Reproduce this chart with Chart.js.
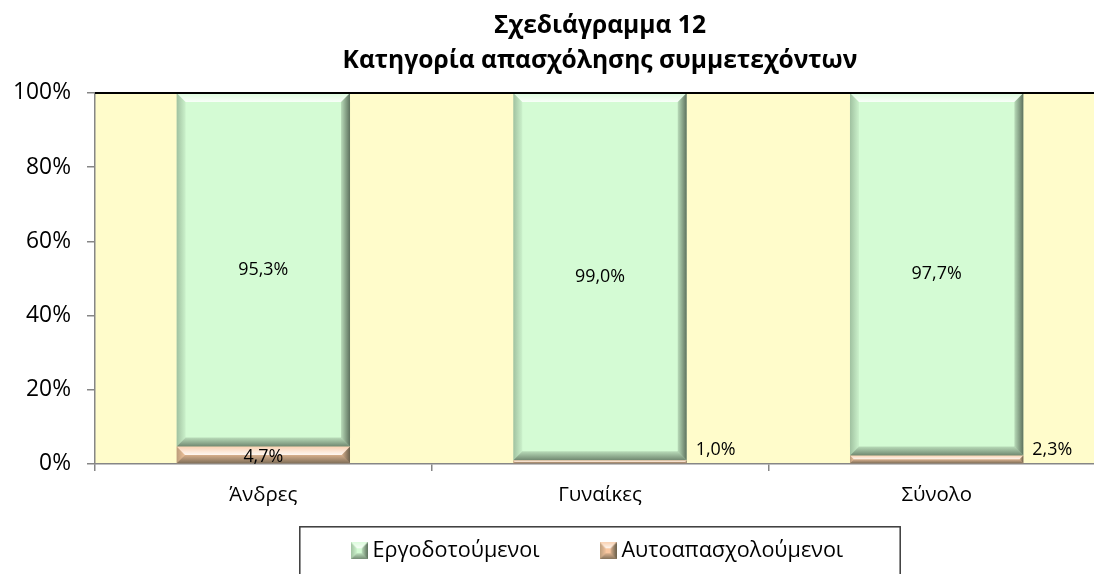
<!DOCTYPE html>
<html>
<head>
<meta charset="utf-8">
<script src="https://cdn.jsdelivr.net/npm/chart.js@4/dist/chart.umd.min.js"></script>
<style>
  html, body { margin: 0; padding: 0; background: #fff; overflow: hidden; }
  #wrap { width: 1094px; height: 574px; overflow: hidden; }
</style>
</head>
<body>
<div id="wrap"><canvas id="c" width="1110" height="574"></canvas></div>
<script>
const titleLines = ['Σχεδιάγραμμα 12', 'Κατηγορία απασχόλησης συμμετεχόντων'];
const categories = ['Άνδρες', 'Γυναίκες', 'Σύνολο'];
const seriesNames = ['Αυτοαπασχολούμενοι', 'Εργοδοτούμενοι'];
const selfEmployed = [4.7, 1.0, 2.3];
const employees = [95.3, 99.0, 97.7];
const yTicks = [0, 20, 40, 60, 80, 100];

const FONT = "'Open Sans', 'Noto Sans', 'DejaVu Sans', sans-serif";
const colors = { employees: '#D4FBD4', self: '#F9C7A0', plot: '#FFFCCB' };

// font sizes chosen so rendered text widths match the reference
const mctx = document.createElement('canvas').getContext('2d');
function fitSize(text, weight, target) {
  mctx.font = weight + ' 100px ' + FONT;
  return Math.round(10 * 100 * target / mctx.measureText(text).width) / 10;
}
const SZ = {
  title: fitSize(titleLines[1], 'bold', 515),
  y: fitSize('100%', 'normal', 58),
  x: fitSize(categories[0], 'normal', 68),
  label: fitSize('95,3%', 'normal', 50),
  legend: fitSize(seriesNames[1], 'normal', 167)
};

function drawBevel(ctx, x0, y0, x1, y1, bMax) {
  const w = x1 - x0, h = y1 - y0;
  const b = Math.max(0, Math.min(bMax, w / 2, h / 2));
  if (b <= 0) return;
  ctx.save();
  let g = ctx.createLinearGradient(0, y0, 0, y0 + b);
  g.addColorStop(0, 'rgba(255,255,255,0.2)');
  g.addColorStop(1, 'rgba(255,255,255,0.85)');
  ctx.fillStyle = g;
  ctx.beginPath(); ctx.moveTo(x0, y0); ctx.lineTo(x1, y0); ctx.lineTo(x1 - b, y0 + b); ctx.lineTo(x0 + b, y0 + b); ctx.closePath(); ctx.fill();
  g = ctx.createLinearGradient(x0, 0, x0 + b, 0);
  g.addColorStop(0, 'rgba(40,60,40,0.30)');
  g.addColorStop(1, 'rgba(40,60,40,0.05)');
  ctx.fillStyle = g;
  ctx.beginPath(); ctx.moveTo(x0, y0); ctx.lineTo(x0 + b, y0 + b); ctx.lineTo(x0 + b, y1 - b); ctx.lineTo(x0, y1); ctx.closePath(); ctx.fill();
  g = ctx.createLinearGradient(x1 - b, 0, x1, 0);
  g.addColorStop(0, 'rgba(30,40,30,0.15)');
  g.addColorStop(1, 'rgba(30,40,30,0.65)');
  ctx.fillStyle = g;
  ctx.beginPath(); ctx.moveTo(x1, y0); ctx.lineTo(x1 - b, y0 + b); ctx.lineTo(x1 - b, y1 - b); ctx.lineTo(x1, y1); ctx.closePath(); ctx.fill();
  g = ctx.createLinearGradient(0, y1 - b, 0, y1);
  g.addColorStop(0, 'rgba(30,40,30,0.15)');
  g.addColorStop(1, 'rgba(30,40,30,0.55)');
  ctx.fillStyle = g;
  ctx.beginPath(); ctx.moveTo(x0, y1); ctx.lineTo(x1, y1); ctx.lineTo(x1 - b, y1 - b); ctx.lineTo(x0 + b, y1 - b); ctx.closePath(); ctx.fill();
  ctx.restore();
}

function makeMarker(color) {
  const c = document.createElement('canvas');
  c.width = 17; c.height = 17;
  const x = c.getContext('2d');
  x.fillStyle = color;
  x.fillRect(0, 0, 17, 17);
  drawBevel(x, 0, 0, 17, 17, 6);
  return c;
}
const markers = [makeMarker(colors.self), makeMarker(colors.employees)];

const fmt = v => v.toFixed(1).replace('.', ',') + '%';

const LEGEND_SHIFT = 34;

const plotDeco = {
  id: 'plotDeco',
  afterLayout(chart) {
    // pull the legend block up so wide item spacing does not push it off the page
    const lg = chart.legend;
    if (lg) {
      lg.top -= LEGEND_SHIFT;
      lg.bottom = chart.height;
      lg.height = lg.bottom - lg.top;
    }
  },
  beforeDraw(chart) {
    const { ctx, chartArea: a } = chart;
    ctx.save();
    ctx.fillStyle = colors.plot;
    ctx.fillRect(a.left, a.top, a.right - a.left, a.bottom - a.top);
    ctx.restore();
  },
  afterDatasetsDraw(chart) {
    const { ctx, chartArea: a } = chart;
    chart.data.datasets.forEach((ds, di) => {
      chart.getDatasetMeta(di).data.forEach(bar => {
        const p = bar.getProps(['x', 'y', 'base', 'width'], true);
        drawBevel(ctx, p.x - p.width / 2, Math.min(p.y, p.base), p.x + p.width / 2, Math.max(p.y, p.base), 9);
      });
    });
    ctx.save();
    ctx.strokeStyle = '#000';
    ctx.lineWidth = 2;
    ctx.beginPath();
    ctx.moveTo(a.left, a.top);
    ctx.lineTo(a.right, a.top);
    ctx.stroke();
    ctx.restore();
  },
  afterDraw(chart) {
    const { ctx } = chart;
    ctx.save();
    ctx.font = SZ.label + 'px ' + FONT;
    ctx.fillStyle = '#000';
    chart.data.datasets.forEach((ds, di) => {
      chart.getDatasetMeta(di).data.forEach((bar, i) => {
        const p = bar.getProps(['x', 'y', 'base', 'width'], true);
        const h = Math.abs(p.base - p.y);
        const txt = fmt(ds.data[i]);
        ctx.textBaseline = 'middle';
        if (h >= 14) {
          ctx.textAlign = 'center';
          ctx.fillText(txt, p.x, (p.y + p.base) / 2 + (h < 24 ? 1.5 : 0));
        } else {
          ctx.textAlign = 'left';
          ctx.fillText(txt, p.x + p.width / 2 + 9, p.base - 13);
        }
      });
    });
    ctx.restore();
    const lg = chart.legend;
    if (lg && lg.legendHitBoxes && lg.legendHitBoxes.length) {
      const hb0 = lg.legendHitBoxes[0];
      const cx = lg.left + lg.width / 2;
      const half = cx - (hb0.left - 57);
      const top = hb0.top + hb0.height / 2 - 24;
      ctx.save();
      ctx.strokeStyle = '#3a3a3a';
      ctx.lineWidth = 1.5;
      ctx.strokeRect(cx - half, top, half * 2, 80);
      ctx.restore();
    }
  }
};

new Chart(document.getElementById('c'), {
  type: 'bar',
  data: {
    labels: categories,
    datasets: [
      { label: seriesNames[0], data: selfEmployed, backgroundColor: colors.self, borderWidth: 0 },
      { label: seriesNames[1], data: employees, backgroundColor: colors.employees, borderWidth: 0 }
    ]
  },
  options: {
    responsive: false,
    animation: false,
    devicePixelRatio: 1,
    layout: { padding: { left: 0, right: 5, top: 0, bottom: 6 } },
    datasets: { bar: { categoryPercentage: 1.0, barPercentage: 0.515 } },
    plugins: {
      title: {
        display: true,
        text: titleLines,
        fullSize: false,
        color: '#000',
        font: { family: FONT, size: SZ.title, weight: 'bold', lineHeight: 35 / SZ.title },
        padding: { top: 8, bottom: 15 }
      },
      legend: {
        display: true,
        position: 'bottom',
        fullSize: false,
        reverse: true,
        maxHeight: 60,
        labels: {
          usePointStyle: true,
          boxWidth: 5,
          boxHeight: 17,
          padding: 66,
          color: '#000',
          font: { family: FONT, size: SZ.legend },
          generateLabels(chart) {
            const items = Chart.defaults.plugins.legend.labels.generateLabels(chart);
            items.forEach(it => { it.pointStyle = markers[it.datasetIndex]; it.lineWidth = 0; });
            return items;
          }
        }
      },
      tooltip: { enabled: false }
    },
    scales: {
      x: {
        stacked: true,
        grid: { offset: true, drawOnChartArea: false, drawTicks: true, tickLength: 7, color: '#868686', lineWidth: 1.5 },
        border: { color: '#868686', width: 1.5 },
        ticks: { color: '#000', font: { family: FONT, size: SZ.x }, padding: 12 },
        afterFit(s) { s.height = 44; }
      },
      y: {
        stacked: true,
        min: 0, max: 100,
        afterBuildTicks(s) { s.ticks = yTicks.map(v => ({ value: v })); },
        grid: { drawOnChartArea: false, drawTicks: true, tickLength: 8, color: '#868686', lineWidth: 1.5 },
        border: { color: '#868686', width: 1.5 },
        ticks: { color: '#000', font: { family: FONT, size: SZ.y }, padding: 16, callback: v => v + '%' },
        afterFit(s) { s.width = 95; }
      }
    }
  },
  plugins: [plotDeco]
});
</script>
</body>
</html>
